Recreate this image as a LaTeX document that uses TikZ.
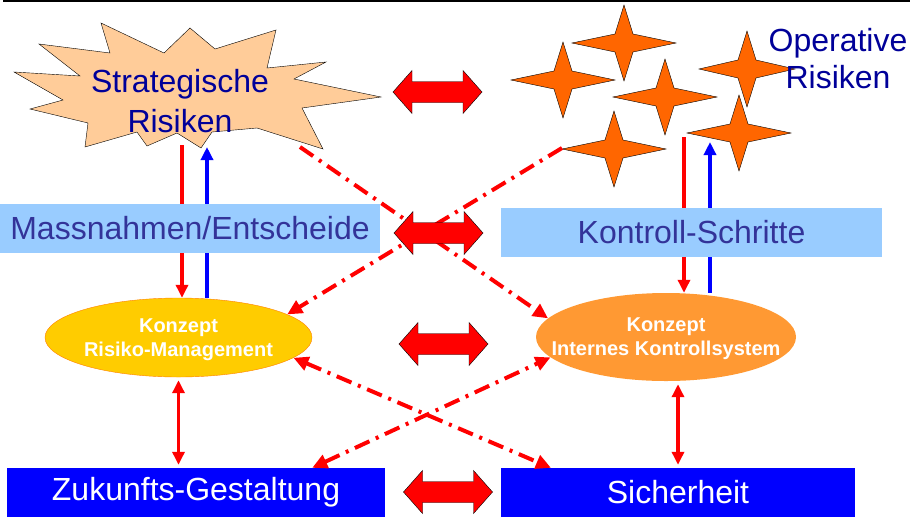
\documentclass[tikz,border=0pt]{standalone}
\usepackage{fontspec}
\setmainfont{Liberation Sans}
\usetikzlibrary{arrows.meta,shapes.geometric}

\definecolor{peach}{RGB}{255,204,153}
\definecolor{starorange}{RGB}{255,102,0}
\definecolor{paleblue}{RGB}{153,204,255}
\definecolor{boxtext}{RGB}{51,51,153}
\definecolor{titleblue}{RGB}{0,0,153}
\definecolor{rmyellow}{RGB}{255,204,0}
\definecolor{iksorange}{RGB}{255,153,51}

\begin{document}
\begin{tikzpicture}[
  x=1pt, y=-1pt,
  title text/.style={font=\fontsize{32}{40}\selectfont, text=titleblue, align=center, inner sep=0pt},
  step box/.style={rectangle, fill=paleblue, text=boxtext, font=\fontsize{32}{38}\selectfont, inner sep=0pt, minimum height=49pt},
  goal box/.style={rectangle, fill=blue, text=white, font=\fontsize{32}{38}\selectfont, inner sep=0pt, minimum height=49pt},
  concept/.style={ellipse, inner sep=0pt},
  concept text/.style={text=white, font=\bfseries\fontsize{20}{24}\selectfont, align=center, yshift=-2pt},
  burst/.style={draw=black, thin, fill=peach},
  star shape/.style={draw=black, thin, fill=starorange},
  red down/.style={draw=red, line width=3.6pt, -{Triangle[length=13pt,width=12pt]}},
  blue up/.style={draw=blue, line width=3.6pt, -{Triangle[length=13pt,width=12pt]}},
  red both/.style={draw=red, line width=3.6pt, {Triangle[length=13pt,width=12pt]}-{Triangle[length=13pt,width=12pt]}, shorten <=3pt, shorten >=3pt},
  dash dot line/.style={draw=red, line width=4pt, dash pattern=on 16pt off 7pt on 3pt off 7pt},
  block arrow/.style={draw=black, thin, fill=red}
  ]
  \useasboundingbox (0,0) rectangle (912,517);
  \draw[line width=2.5pt] (3,1) -- (910,1);

  % strategische Risiken
  \draw[burst] (101,23) -- (164,53) -- (190,28) -- (215,49) -- (276,30) -- (267,68)
    -- (326,62) -- (294,79) -- (381,97) -- (302,108) -- (323,149) -- (257,128)
    -- (212,132) -- (201,148) -- (177,133) -- (147,146) -- (137,132) -- (85,147)
    -- (88,123) -- (30,109) -- (63,100) -- (14,72) -- (80,76) -- (39,44) -- (110,53) -- cycle;
  \node[title text] (strat) at (180,101.5) {Strategische\\Risiken};

  % operative Risiken
  \foreach \cx/\cy/\w in {624/43/52, 563/80/52, 665/97/52, 747/69/48, 614/149/52, 739/133/52}
    \draw[star shape] (\cx-\w,\cy) -- (\cx-9,\cy-9) -- (\cx,\cy-38) -- (\cx+9,\cy-9)
      -- (\cx+\w,\cy) -- (\cx+9,\cy+9) -- (\cx,\cy+38) -- (\cx-9,\cy+9) -- cycle;
  \node[title text, font=\fontsize{32}{37}\selectfont] (ops) at (838,59) {Operative\\Risiken};

  \coordinate (sdown) at (182,145);
  \coordinate (sup) at (207,147);
  \coordinate (odown) at (684,137);
  \coordinate (oup) at (710,142);
  \coordinate (sedge) at (300,147);
  \coordinate (oedge) at (562,148);

  \node[concept, fill=rmyellow, draw=orange, thin, minimum width=267pt, minimum height=79pt,
    label={[concept text]center:{Konzept\\Risiko-Management}}] (risk) at (178.5,337.5) {};
  \node[concept, fill=iksorange, minimum width=260pt, minimum height=88pt,
    label={[concept text]center:{Konzept\\Internes Kontrollsystem}}] (iks) at (666,337) {};

  \draw[red down] (sdown) -- (sdown |- risk.north);
  \draw[blue up] (sup |- risk.north) -- (sup);
  \draw[red down] (odown) -- (odown |- iks.north);
  \draw[blue up] (oup |- iks.north) -- (oup);

  \node[step box, minimum width=380pt] (mass) at (190,228.5) {Massnahmen/Entscheide};
  \node[step box, minimum width=381pt] (ctrl) at (691.5,232.5) {Kontroll-Schritte};
  \node[goal box, minimum width=378pt] (future) at (196,492.5) {Zukunfts-Gestaltung};
  \node[goal box, minimum width=354pt] (safety) at (678,492.5) {Sicherheit};

  \draw[red both] (risk.south) -- (risk.south |- future.north);
  \draw[red both] (safety.north |- iks.south) -- (safety.north);

  \draw[dash dot line, -{Triangle[length=15pt,width=14pt]}] (sedge) -- (iks.171);
  \draw[dash dot line, -{Triangle[length=15pt,width=14pt]}] (oedge) -- (risk.12);
  \draw[dash dot line, {Triangle[length=15pt,width=14pt]}-{Triangle[length=15pt,width=14pt]}] (future.12) -- (iks.190);
  \draw[dash dot line, {Triangle[length=15pt,width=14pt]}-{Triangle[length=15pt,width=14pt]}] (risk.-10) -- (safety.169);

  \foreach \cx/\cy in {437.5/92, 438.5/233, 443.5/344, 448/492}
    \draw[block arrow] (\cx-44.5,\cy) -- (\cx-25.5,\cy-21.5) -- (\cx-25.5,\cy-10.5)
      -- (\cx+25.5,\cy-10.5) -- (\cx+25.5,\cy-21.5) -- (\cx+44.5,\cy)
      -- (\cx+25.5,\cy+21.5) -- (\cx+25.5,\cy+10.5) -- (\cx-25.5,\cy+10.5)
      -- (\cx-25.5,\cy+21.5) -- cycle;
\end{tikzpicture}
\end{document}
